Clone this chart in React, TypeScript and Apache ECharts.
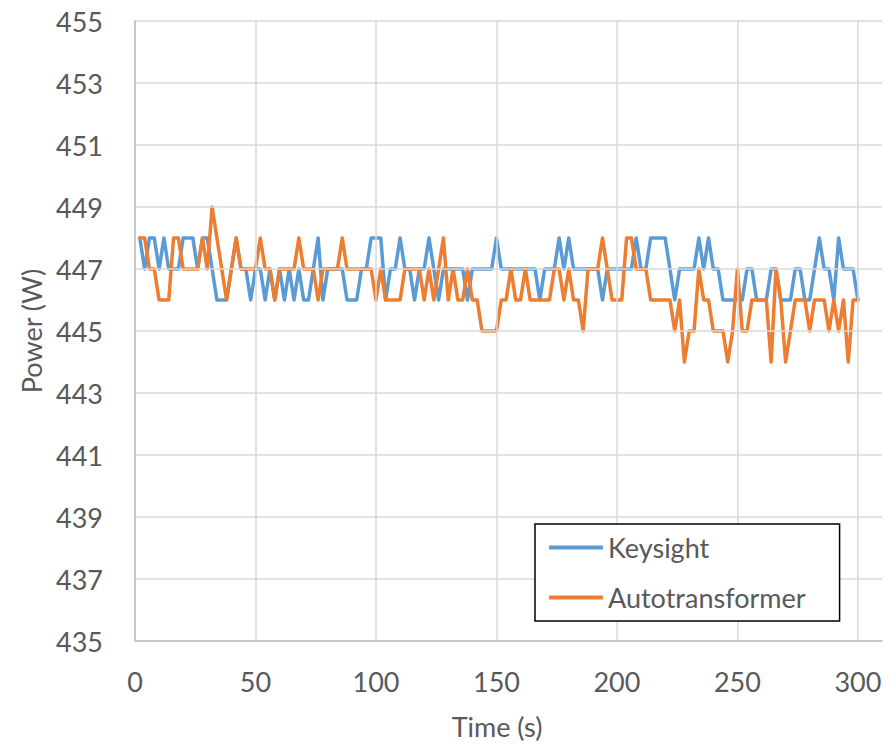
import React, { useEffect, useRef } from "react";
import * as echarts from "echarts";

const times = [
  2, 4, 6, 8, 10, 12, 14, 16, 18, 20,
  22, 24, 26, 28, 30, 32, 34, 36, 38, 40,
  42, 44, 46, 48, 50, 52, 54, 56, 58, 60,
  62, 64, 66, 68, 70, 72, 74, 76, 78, 80,
  82, 84, 86, 88, 90, 92, 94, 96, 98, 100,
  102, 104, 106, 108, 110, 112, 114, 116, 118, 120,
  122, 124, 126, 128, 130, 132, 134, 136, 138, 140,
  142, 144, 146, 148, 150, 152, 154, 156, 158, 160,
  162, 164, 166, 168, 170, 172, 174, 176, 178, 180,
  182, 184, 186, 188, 190, 192, 194, 196, 198, 200,
  202, 204, 206, 208, 210, 212, 214, 216, 218, 220,
  222, 224, 226, 228, 230, 232, 234, 236, 238, 240,
  242, 244, 246, 248, 250, 252, 254, 256, 258, 260,
  262, 264, 266, 268, 270, 272, 274, 276, 278, 280,
  282, 284, 286, 288, 290, 292, 294, 296, 298, 300,
];

const keysight = [
  448, 447, 448, 448, 447, 448, 447, 447, 447, 448,
  448, 448, 447, 448, 448, 447, 446, 446, 446, 447,
  448, 447, 447, 446, 447, 447, 446, 447, 446, 447,
  446, 447, 446, 447, 446, 446, 447, 448, 446, 447,
  447, 447, 447, 446, 446, 446, 447, 447, 448, 448,
  448, 446, 447, 447, 448, 447, 447, 446, 447, 447,
  448, 447, 446, 447, 447, 447, 447, 447, 446, 447,
  447, 447, 447, 447, 448, 447, 447, 447, 447, 447,
  447, 447, 447, 446, 447, 447, 447, 448, 447, 448,
  447, 447, 447, 447, 447, 447, 446, 447, 447, 447,
  447, 447, 447, 448, 447, 447, 448, 448, 448, 448,
  447, 446, 447, 447, 447, 447, 448, 447, 448, 447,
  447, 446, 446, 446, 446, 446, 447, 447, 446, 446,
  446, 447, 447, 446, 446, 446, 447, 447, 446, 446,
  447, 448, 447, 447, 446, 448, 447, 447, 447, 446,
];

const autotransformer = [
  448, 448, 447, 447, 446, 446, 446, 448, 448, 447,
  447, 447, 447, 448, 447, 449, 448, 447, 446, 447,
  448, 447, 447, 447, 447, 448, 447, 447, 446, 447,
  447, 447, 447, 448, 447, 447, 447, 446, 447, 447,
  447, 447, 448, 447, 447, 447, 447, 447, 447, 446,
  447, 446, 446, 446, 446, 447, 447, 447, 447, 446,
  447, 446, 447, 448, 446, 447, 446, 446, 447, 446,
  446, 445, 445, 445, 445, 446, 446, 447, 446, 446,
  447, 446, 446, 446, 446, 446, 447, 447, 446, 447,
  446, 446, 445, 447, 447, 447, 448, 447, 446, 446,
  446, 448, 448, 447, 447, 447, 446, 446, 446, 446,
  446, 445, 446, 444, 445, 445, 447, 446, 446, 445,
  445, 445, 444, 445, 447, 445, 445, 446, 446, 446,
  446, 444, 447, 446, 444, 445, 446, 446, 446, 445,
  446, 446, 446, 445, 446, 445, 446, 444, 446, 446,
];

const xTicks = [0, 50, 100, 150, 200, 250, 300];
const yTicks = [435, 437, 439, 441, 443, 445, 447, 449, 451, 453, 455];

const FONT = "Lato";
const TEXT = "#595959";

export default function App() {
  const ref = useRef<HTMLDivElement>(null);

  useEffect(() => {
    if (!ref.current) return;
    const chart = echarts.init(ref.current, undefined, { renderer: "svg" });
    const pairs = (vals: number[]) => times.map((t, i) => [t, vals[i]]);
    chart.setOption({
      animation: false,
      backgroundColor: "#ffffff",
      textStyle: { fontFamily: FONT },
      grid: { left: 135, right: 14, top: 21, bottom: 104 },
      legend: {
        data: ["Keysight", "Autotransformer"],
        orient: "vertical",
        left: 535,
        top: 524,
        padding: [10, 34, 10, 14],
        itemGap: 23,
        itemWidth: 54,
        itemHeight: 4,
        icon: "roundRect",
        backgroundColor: "#ffffff",
        borderColor: "#000000",
        borderWidth: 1.5,
        borderRadius: 0,
        z: 10,
        textStyle: { fontSize: 27, color: TEXT, fontFamily: FONT, lineHeight: 27 },
      },
      xAxis: {
        type: "value",
        min: 0,
        max: 310,
        interval: 50,
        z: 5,
        name: "Time (s)",
        nameLocation: "middle",
        nameGap: 72,
        nameTextStyle: { fontSize: 27, color: TEXT, fontFamily: FONT, padding: [0, 23, 0, 0] },
        axisLine: { show: true, lineStyle: { color: "#bfbfbf", width: 1.5 } },
        axisTick: { show: false },
        splitLine: { show: false },
        axisLabel: {
          fontSize: 27,
          color: TEXT,
          fontFamily: FONT,
          margin: 27,
          showMaxLabel: false,
          formatter: (v: number) => (xTicks.includes(v) ? String(v) : ""),
        },
      },
      yAxis: {
        type: "value",
        min: 435,
        max: 455,
        interval: 1,
        z: 5,
        name: "Power (W)",
        nameLocation: "middle",
        nameGap: 90,
        nameTextStyle: { fontSize: 27, color: TEXT, fontFamily: FONT },
        axisLine: { show: true, lineStyle: { color: "#bfbfbf", width: 1.5 } },
        axisTick: { show: false },
        splitLine: { show: false },
        axisLabel: {
          fontSize: 27,
          color: TEXT,
          fontFamily: FONT,
          margin: 32,
          formatter: (v: number) => (yTicks.includes(v) ? String(v) : ""),
        },
      },
      series: [
        {
          name: "grid",
          type: "line",
          data: [],
          z: 1,
          silent: true,
          markLine: {
            silent: true,
            symbol: ["none", "none"],
            label: { show: false },
            lineStyle: { color: "#d9d9d9", width: 1.5, type: "solid" },
            emphasis: { disabled: true },
            data: [
              ...yTicks.map((v) => ({ yAxis: v })),
              ...xTicks.map((v) => ({ xAxis: v })),
            ],
          },
        },
        {
          name: "Keysight",
          type: "line",
          data: pairs(keysight),
          showSymbol: false,
          symbol: "none",
          z: 2,
          color: "#5b9bd5",
          lineStyle: { color: "#5b9bd5", width: 3.5, cap: "round", join: "round" },
        },
        {
          name: "Autotransformer",
          type: "line",
          data: pairs(autotransformer),
          showSymbol: false,
          symbol: "none",
          z: 3,
          color: "#ed7d31",
          lineStyle: { color: "#ed7d31", width: 3.5, cap: "round", join: "round" },
        },
      ],
    });
    return () => chart.dispose();
  }, []);

  return (
    <div
      ref={ref}
      style={{ position: "fixed", left: 0, top: 0, width: 896, height: 745 }}
    />
  );
}
